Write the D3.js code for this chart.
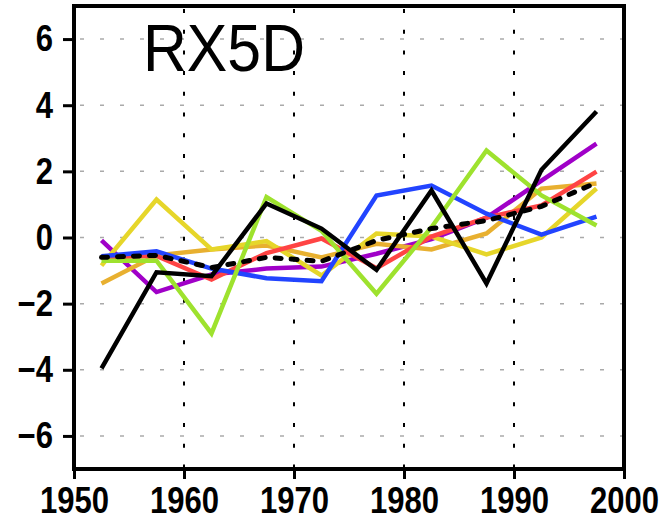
<!DOCTYPE html>
<html>
<head>
<meta charset="utf-8">
<script src="https://cdn.jsdelivr.net/npm/d3@7"></script>
<style>
  body { margin: 0; background: #fff; }
  svg { display: block; }
</style>
</head>
<body>
<svg id="chart"></svg>
<script>
// 5-year bins, one point in the middle of each
const years = [1952.5, 1957.5, 1962.5, 1967.5, 1972.5, 1977.5, 1982.5, 1987.5, 1992.5, 1997.5];

const purple = [-0.09, -1.65, -1.12, -0.94, -0.88, -0.49, -0.05, 0.6, 1.72, 2.84];
const orange = [-1.39, -0.54, -0.36, -0.24, -0.6, -0.19, -0.36, 0.12, 1.48, 1.63];
const yellow = [-0.85, 1.15, -0.36, -0.11, -1.15, 0.12, 0.03, -0.51, 0.0, 1.48];
const red = [-0.6, -0.56, -1.27, -0.47, -0.03, -0.93, 0.03, 0.6, 0.97, 1.99];
const blue = [-0.57, -0.42, -0.94, -1.23, -1.32, 1.27, 1.57, 0.72, 0.09, 0.63];
const green = [-0.7, -0.7, -2.9, 1.22, 0.2, -1.7, 0.31, 2.63, 1.27, 0.36];
const black = [-3.96, -1.05, -1.17, 1.03, 0.27, -0.98, 1.42, -1.39, 2.05, 3.81];
const mean = [-0.6, -0.54, -0.91, -0.6, -0.72, -0.09, 0.27, 0.51, 0.94, 1.66];

const xTicks = [1950, 1960, 1970, 1980, 1990, 2000];
const yTicks = [-6, -4, -2, 0, 2, 4, 6];
const title = 'RX5D';

const width = 666;
const height = 522;
const margin = { top: 6, right: 42, bottom: 53, left: 74 };
const innerW = width - margin.left - margin.right;
const innerH = height - margin.top - margin.bottom;

const svg = d3.select('#chart')
  .attr('width', width)
  .attr('height', height);

const g = svg.append('g')
  .attr('transform', `translate(${margin.left}, ${margin.top})`);

const xScale = d3.scaleLinear().domain([1950, 2000]).range([0, innerW]);
const yScale = d3.scaleLinear().domain([-7, 7]).range([innerH, 0]);

// grey dashed horizontal grid
g.append('g')
  .selectAll('line')
  .data(yTicks)
  .join('line')
  .attr('x1', 0)
  .attr('x2', innerW)
  .attr('y1', d => yScale(d))
  .attr('y2', d => yScale(d))
  .attr('stroke', '#aaa')
  .attr('stroke-width', 1.5)
  .attr('stroke-dasharray', '4 16')
  .attr('stroke-dashoffset', -6);

// black dotted vertical grid
g.append('g')
  .selectAll('line')
  .data(xTicks.slice(1, -1))
  .join('line')
  .attr('x1', d => xScale(d))
  .attr('x2', d => xScale(d))
  .attr('y1', 0)
  .attr('y2', innerH)
  .attr('stroke', '#000')
  .attr('stroke-width', 2)
  .attr('stroke-dasharray', '4 16.7')
  .attr('stroke-dashoffset', -3);

const series = [
  { values: purple, color: '#a000c8' },
  { values: orange, color: '#e8b030' },
  { values: yellow, color: '#e6d62a' },
  { values: red, color: '#ff4444' },
  { values: blue, color: '#2244ff' },
  { values: green, color: '#9ee22e' },
  { values: black, color: '#000000' }
];

const lineFunc = d3.line()
  .x((d, i) => xScale(years[i]))
  .y(d => yScale(d));

g.append('g')
  .selectAll('path')
  .data(series)
  .join('path')
  .attr('fill', 'none')
  .attr('stroke', d => d.color)
  .attr('stroke-width', 4.5)
  .attr('stroke-linejoin', 'miter')
  .attr('d', d => lineFunc(d.values));

g.append('path')
  .attr('fill', 'none')
  .attr('stroke', '#000')
  .attr('stroke-width', 5)
  .attr('stroke-linecap', 'round')
  .attr('stroke-dasharray', '6 10')
  .attr('d', lineFunc(mean));

const tickFont = '"Liberation Sans", Arial, sans-serif';
const squeeze = 0.84;

const xAxis = g.append('g')
  .attr('transform', `translate(0, ${innerH})`)
  .call(d3.axisBottom(xScale).tickValues(xTicks).tickFormat(d3.format('d')).tickSize(10).tickPadding(8));

const yAxis = g.append('g')
  .call(d3.axisLeft(yScale).tickValues(yTicks).tickSize(11).tickPadding(10));

[xAxis, yAxis].forEach(ax => {
  ax.select('.domain').remove();
  ax.selectAll('line').attr('stroke', '#000').attr('stroke-width', 3);
  ax.selectAll('text')
    .attr('fill', '#000')
    .style('font-family', tickFont)
    .style('font-weight', 'bold')
    .style('font-size', '37px');
});

// narrow the tick labels like the original plot font
xAxis.selectAll('text').attr('transform', `scale(${squeeze}, 1)`);
yAxis.selectAll('text')
  .attr('x', -21 / squeeze)
  .attr('transform', `scale(${squeeze}, 1)`);

// frame
g.append('rect')
  .attr('x', 0)
  .attr('y', 0)
  .attr('width', innerW)
  .attr('height', innerH)
  .attr('fill', 'none')
  .attr('stroke', '#000')
  .attr('stroke-width', 4);

g.append('text')
  .attr('x', 69)
  .attr('y', 65)
  .attr('textLength', 162)
  .attr('lengthAdjust', 'spacingAndGlyphs')
  .style('font-family', '"Liberation Sans", Arial, sans-serif')
  .style('font-size', '67px')
  .attr('fill', '#000')
  .text(title);
</script>
</body>
</html>
